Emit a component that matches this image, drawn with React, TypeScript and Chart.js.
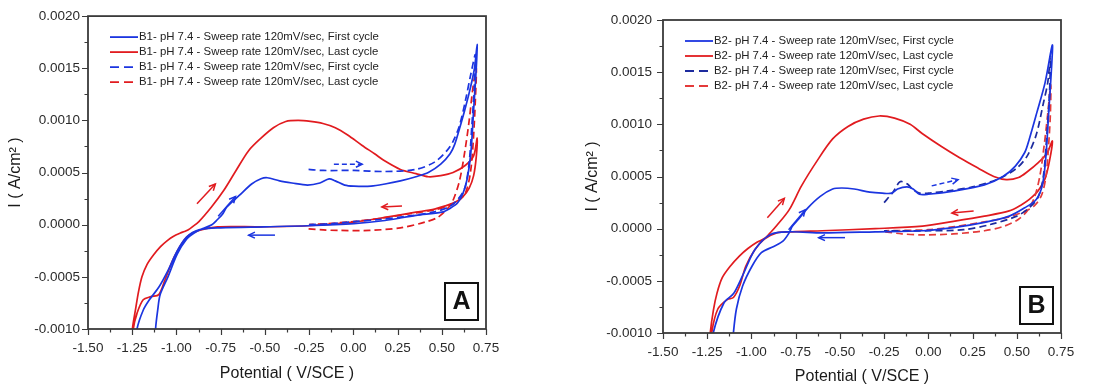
import React, { useEffect, useRef } from 'react';
import { Chart, registerables } from 'chart.js';

Chart.register(...registerables);

type Pt = [number, number];

// ---------- axis ticks ----------
const X_MIN = -1.5;
const X_MAX = 0.75;
const X_STEP = 0.125; // minor step, labels on every second tick
const Y_MIN = -0.001;
const Y_MAX = 0.002;
const Y_STEP = 0.00025;

// ---------- Panel A (B1) ----------
const A_BLUE_SOLID: Pt[] = [
  [-1.125, -0.0013], [-1.118, -0.001], [-1.106, -0.00082], [-1.092, -0.00067], [-1.048, -0.0005],
  [-0.995, -0.00028], [-0.943, -0.00014], [-0.9, -0.00008], [-0.855, -0.00004], [-0.8, 0.0],
  [-0.768, 0.00005], [-0.74, 0.0001], [-0.715, 0.00017], [-0.645, 0.00028], [-0.575, 0.00039],
  [-0.522, 0.00044], [-0.487, 0.00045], [-0.417, 0.00042], [-0.347, 0.0004], [-0.259, 0.00038],
  [-0.189, 0.0004], [-0.137, 0.00044], [-0.102, 0.00042], [-0.049, 0.00038], [0.003, 0.00037],
  [0.1, 0.00037], [0.179, 0.00039], [0.266, 0.00042], [0.354, 0.00046], [0.424, 0.0005],
  [0.494, 0.00058], [0.547, 0.00068], [0.573, 0.00077], [0.6, 0.00092], [0.63, 0.0011],
  [0.66, 0.0013], [0.685, 0.0015], [0.7, 0.00173], [0.695, 0.0015], [0.68, 0.0011],
  [0.665, 0.0007], [0.645, 0.00045], [0.62, 0.0003], [0.59, 0.00021], [0.55, 0.00016],
  [0.5, 0.00012], [0.354, 0.00009], [0.179, 0.00004], [0.003, 0.00001], [-0.259, -0.00001],
  [-0.5, -0.00002], [-0.75, -0.00003], [-0.873, -0.00005], [-0.943, -0.00012], [-0.995, -0.00025],
  [-1.048, -0.00044], [-1.1, -0.0006], [-1.153, -0.00072], [-1.188, -0.00082], [-1.223, -0.001],
  [-1.235, -0.0012],
];
const A_RED_SOLID: Pt[] = [
  [-1.255, -0.0012], [-1.249, -0.001], [-1.232, -0.00082], [-1.214, -0.00064], [-1.195, -0.0005],
  [-1.166, -0.00038], [-1.13, -0.00029], [-1.09, -0.00021], [-1.05, -0.00015], [-1.016, -0.00011],
  [-0.978, -0.00008], [-0.955, -0.000065], [-0.935, -0.00005], [-0.91, -0.00002], [-0.873, 0.00003],
  [-0.802, 0.00017], [-0.732, 0.00033], [-0.663, 0.00052],
  [-0.592, 0.00071], [-0.522, 0.00083], [-0.452, 0.00093], [-0.382, 0.00099], [-0.312, 0.001],
  [-0.242, 0.00099], [-0.172, 0.00097], [-0.102, 0.00093], [-0.032, 0.00086], [0.05, 0.00076],
  [0.12, 0.00068], [0.179, 0.00061], [0.266, 0.00053], [0.354, 0.00049], [0.424, 0.00046],
  [0.494, 0.00047], [0.564, 0.0005], [0.634, 0.00057], [0.68, 0.00066], [0.7, 0.00083],
  [0.695, 0.00065], [0.68, 0.00047], [0.655, 0.00035], [0.62, 0.00027], [0.58, 0.00022],
  [0.52, 0.00018], [0.459, 0.00015], [0.354, 0.00012], [0.179, 0.00007], [0.003, 0.000025],
  [-0.259, -0.00001], [-0.522, -0.00002], [-0.768, -0.00002], [-0.873, -0.000055], [-0.943, -0.00012],
  [-1.013, -0.00031], [-1.065, -0.00053], [-1.1, -0.00067], [-1.144, -0.00069], [-1.188, -0.00072],
  [-1.223, -0.00085], [-1.244, -0.001], [-1.25, -0.0012],
];
const A_BLUE_DASH: Pt[] = [
  [-0.253, 0.00053], [-0.17, 0.00052], [0.003, 0.00052], [0.179, 0.00051], [0.354, 0.00053],
  [0.459, 0.0006], [0.529, 0.00071], [0.564, 0.0008], [0.6, 0.00095], [0.635, 0.0012],
  [0.665, 0.00145], [0.69, 0.00163], [0.683, 0.0013], [0.67, 0.00095], [0.655, 0.0006],
  [0.63, 0.00035], [0.59, 0.00024], [0.54, 0.00017], [0.45, 0.00012], [0.3, 0.00008],
  [0.15, 0.00005], [0.0, 0.00003], [-0.12, 0.00001], [-0.25, 0.0],
];
const A_RED_DASH: Pt[] = [
  [-0.253, -0.00004], [-0.17, -0.00005], [-0.084, -0.000055], [0.091, -0.000055], [0.266, -0.00003],
  [0.406, 0.000025], [0.477, 0.00007], [0.525, 0.00014], [0.56, 0.00022], [0.6, 0.00042],
  [0.63, 0.0007], [0.655, 0.001], [0.675, 0.0013], [0.695, 0.0015], [0.69, 0.0012],
  [0.678, 0.0008], [0.662, 0.0005], [0.635, 0.00031], [0.595, 0.00023], [0.54, 0.00018],
  [0.45, 0.00014], [0.3, 0.0001], [0.15, 0.00006], [0.0, 0.00003], [-0.15, 0.00001], [-0.25, 0.0],
];
// arrows: [fromV, fromI, toV, toI]
const A_ARROW_RED_UP = [-0.884, 0.0002, -0.78, 0.00039];
const A_ARROW_BLUE_UP = [-0.764, 0.00008, -0.666, 0.00027];
const A_ARROW_BLUE_LEFT = [-0.443, -0.0001, -0.592, -0.0001];
const A_ARROW_RED_LEFT = [0.275, 0.00018, 0.161, 0.00017];
const A_ARROW_BLUE_DASH = [-0.11, 0.00058, 0.05, 0.00058];

// ---------- Panel B (B2) ----------
const B_BLUE_SOLID: Pt[] = [
  [-1.11, -0.0012], [-1.102, -0.001], [-1.085, -0.00077], [-1.05, -0.00055], [-0.997, -0.00036],
  [-0.944, -0.00023], [-0.874, -0.00017], [-0.822, -0.00012], [-0.787, -0.00004], [-0.77, 0.00002],
  [-0.734, 0.00009], [-0.681, 0.0002], [-0.611, 0.00031], [-0.541, 0.00038], [-0.489, 0.00039],
  [-0.419, 0.00038], [-0.331, 0.00035], [-0.261, 0.00034], [-0.208, 0.00034], [-0.174, 0.00038],
  [-0.121, 0.0004], [-0.086, 0.00038], [-0.051, 0.00033], [0.0, 0.00033], [0.142, 0.00036],
  [0.317, 0.00042], [0.422, 0.0005], [0.492, 0.0006], [0.545, 0.00073], [0.571, 0.00086],
  [0.613, 0.00111], [0.66, 0.0014], [0.701, 0.00176], [0.695, 0.0015], [0.68, 0.0011],
  [0.665, 0.0007], [0.645, 0.00042], [0.61, 0.00028], [0.545, 0.0002], [0.457, 0.00012],
  [0.317, 0.00006], [0.142, 0.00001], [-0.033, -0.00002], [-0.3, -0.00003], [-0.6, -0.00004],
  [-0.787, -0.00003], [-0.892, -0.000055], [-0.98, -0.0002], [-1.05, -0.00045], [-1.1, -0.00062],
  [-1.155, -0.00071], [-1.216, -0.001], [-1.225, -0.0012],
];
const B_RED_SOLID: Pt[] = [
  [-1.24, -0.0012], [-1.233, -0.001], [-1.215, -0.00078], [-1.195, -0.00062], [-1.165, -0.00047],
  [-1.12, -0.00036], [-1.067, -0.00026], [-1.02, -0.00019], [-0.969, -0.00013], [-0.922, -0.00009],
  [-0.894, -0.00004], [-0.857, 0.00003],
  [-0.787, 0.00018], [-0.717, 0.00041], [-0.629, 0.00065], [-0.541, 0.00086], [-0.454, 0.00098],
  [-0.366, 0.00105], [-0.278, 0.00108], [-0.191, 0.00106], [-0.103, 0.001], [-0.033, 0.00091],
  [0.072, 0.00079], [0.177, 0.00068], [0.282, 0.00058], [0.37, 0.0005], [0.44, 0.00047],
  [0.51, 0.00049], [0.563, 0.00055], [0.62, 0.00063], [0.67, 0.00072], [0.701, 0.00084],
  [0.685, 0.00065], [0.66, 0.00048], [0.62, 0.00036], [0.571, 0.00028], [0.527, 0.00023],
  [0.457, 0.00017], [0.317, 0.00012], [0.142, 0.00007], [-0.033, 0.000025], [-0.3, 0.0],
  [-0.6, -0.00002], [-0.77, -0.00003], [-0.857, -0.00004], [-0.927, -0.0001], [-0.98, -0.0002],
  [-1.032, -0.00036], [-1.067, -0.00055], [-1.102, -0.00066], [-1.137, -0.00068], [-1.19, -0.00077],
  [-1.225, -0.001], [-1.23, -0.0012],
];
const B_BLUE_DASH: Pt[] = [
  [-0.25, 0.00025], [-0.2, 0.00035], [-0.16, 0.00045], [-0.12, 0.00043], [-0.09, 0.00038],
  [-0.05, 0.00034], [0.0, 0.00034], [0.1, 0.00036], [0.25, 0.0004], [0.4, 0.00048],
  [0.5, 0.00058], [0.56, 0.0007], [0.61, 0.0009], [0.65, 0.0012], [0.675, 0.0014],
  [0.69, 0.00165], [0.685, 0.0013], [0.67, 0.0009], [0.65, 0.0005], [0.62, 0.0003],
  [0.57, 0.0002], [0.5, 0.00012], [0.35, 0.00004], [0.2, -0.00001], [0.0, -0.00002], [-0.25, -0.00002],
];
const B_RED_DASH: Pt[] = [
  [-0.244, -0.00003], [-0.15, -0.00005], [-0.03, -0.00006], [0.142, -0.00005], [0.317, -0.00002],
  [0.422, 0.00002], [0.51, 0.00009], [0.563, 0.00018], [0.6, 0.0003], [0.63, 0.0005],
  [0.655, 0.0008], [0.675, 0.0011], [0.692, 0.00138], [0.69, 0.0011], [0.68, 0.0008],
  [0.665, 0.0005], [0.64, 0.00032], [0.6, 0.00022], [0.55, 0.00017], [0.45, 0.00011],
  [0.3, 0.00006], [0.15, 0.00002], [0.0, -0.00001], [-0.25, -0.00002],
];
const B_ARROW_RED_UP = [-0.91, 0.000105, -0.814, 0.00029];
const B_ARROW_BLUE_UP = [-0.79, -0.00001, -0.696, 0.00018];
const B_ARROW_BLUE_LEFT = [-0.471, -0.000086, -0.62, -0.000086];
const B_ARROW_RED_LEFT = [0.256, 0.00017, 0.133, 0.00015];
const B_ARROW_BLUE_DASH = [0.019, 0.00041, 0.168, 0.00047];

// ---------- text ----------
const LEGEND_SUFFIXES = [
  ' pH 7.4 - Sweep rate 120mV/sec, First cycle',
  ' pH 7.4 - Sweep rate 120mV/sec, Last cycle',
  ' pH 7.4 - Sweep rate 120mV/sec, First cycle',
  ' pH 7.4 - Sweep rate 120mV/sec, Last cycle',
];
const X_TITLE = 'Potential ( V/SCE )';
const Y_TITLE = 'I ( A/cm\u00B2 )';

// ---------- styles ----------
const FONT = '"Liberation Sans", Arial, sans-serif';
const BLUE = '#1b35e0';
const RED = '#e11b1f';
const AXIS = '#3a3a3a';

type PanelCfg = {
  prefix: string;
  letter: string;
  blueSolid: Pt[];
  redSolid: Pt[];
  blueDash: Pt[];
  redDash: Pt[];
  blueDashColor: string;
  redDashColor: string;
  arrows: { a: number[]; color: string; dashed?: boolean }[];
  left: number;
  width: number;
  yAxisW: number;
  yTickPad: number;
  padRight: number;
  padTop: number;
  xAxisH: number;
  xTitlePad: number;
};

const PANELS: PanelCfg[] = [
  {
    prefix: 'B1-',
    letter: 'A',
    blueSolid: A_BLUE_SOLID,
    redSolid: A_RED_SOLID,
    blueDash: A_BLUE_DASH,
    redDash: A_RED_DASH,
    blueDashColor: BLUE,
    redDashColor: RED,
    arrows: [
      { a: A_ARROW_RED_UP, color: RED },
      { a: A_ARROW_BLUE_UP, color: BLUE },
      { a: A_ARROW_BLUE_LEFT, color: BLUE },
      { a: A_ARROW_RED_LEFT, color: RED },
      { a: A_ARROW_BLUE_DASH, color: BLUE, dashed: true },
    ],
    left: 0,
    width: 557,
    yAxisW: 88,
    yTickPad: 8,
    padRight: 71,
    padTop: 15,
    xAxisH: 58,
    xTitlePad: 4,
  },
  {
    prefix: 'B2-',
    letter: 'B',
    blueSolid: B_BLUE_SOLID,
    redSolid: B_RED_SOLID,
    blueDash: B_BLUE_DASH,
    redDash: B_RED_DASH,
    blueDashColor: '#1d2b9e',
    redDashColor: '#e43a3a',
    arrows: [
      { a: B_ARROW_RED_UP, color: RED },
      { a: B_ARROW_BLUE_UP, color: BLUE },
      { a: B_ARROW_BLUE_LEFT, color: BLUE },
      { a: B_ARROW_RED_LEFT, color: RED },
      { a: B_ARROW_BLUE_DASH, color: BLUE, dashed: true },
    ],
    left: 577,
    width: 540,
    yAxisW: 86,
    yTickPad: 11,
    padRight: 56,
    padTop: 20,
    xAxisH: 54,
    xTitlePad: 1,
  },
];

const DASH = [7, 4];

function drawArrow(ctx: CanvasRenderingContext2D, x1: number, y1: number, x2: number, y2: number, color: string, dashed?: boolean) {
  ctx.save();
  ctx.strokeStyle = color;
  ctx.lineWidth = 1.5;
  ctx.setLineDash(dashed ? [5, 3] : []);
  ctx.beginPath();
  ctx.moveTo(x1, y1);
  ctx.lineTo(x2, y2);
  ctx.stroke();
  ctx.setLineDash([]);
  const ang = Math.atan2(y2 - y1, x2 - x1);
  const h = 7;
  const spread = 0.45;
  ctx.beginPath();
  ctx.moveTo(x2 - h * Math.cos(ang - spread), y2 - h * Math.sin(ang - spread));
  ctx.lineTo(x2, y2);
  ctx.lineTo(x2 - h * Math.cos(ang + spread), y2 - h * Math.sin(ang + spread));
  ctx.stroke();
  ctx.restore();
}

const decorPlugin = {
  id: 'decor',
  afterDraw(chart: any, _args: any, opts: any) {
    const cfg: PanelCfg = opts.cfg;
    const { ctx, chartArea: ca, scales } = chart;
    const xs = scales.x;
    const ys = scales.y;
    ctx.save();
    // arrows
    cfg.arrows.forEach((ar) => {
      const [v1, i1, v2, i2] = ar.a;
      drawArrow(ctx, xs.getPixelForValue(v1), ys.getPixelForValue(i1), xs.getPixelForValue(v2), ys.getPixelForValue(i2), ar.color, ar.dashed);
    });
    // frame
    ctx.strokeStyle = AXIS;
    ctx.lineWidth = 1.8;
    ctx.setLineDash([]);
    ctx.strokeRect(ca.left, ca.top, ca.right - ca.left, ca.bottom - ca.top);
    // ticks
    ctx.lineWidth = 1.2;
    ctx.beginPath();
    xs.ticks.forEach((t: any, i: number) => {
      const px = Math.round(xs.getPixelForValue(t.value)) + 0.5;
      const len = i % 2 === 0 ? 6 : 3.5;
      ctx.moveTo(px, ca.bottom);
      ctx.lineTo(px, ca.bottom + len);
    });
    ys.ticks.forEach((t: any, i: number) => {
      const py = Math.round(ys.getPixelForValue(t.value)) + 0.5;
      const len = i % 2 === 0 ? 6 : 3.5;
      ctx.moveTo(ca.left, py);
      ctx.lineTo(ca.left - len, py);
    });
    ctx.stroke();
    // legend
    const colors = [BLUE, RED, cfg.blueDashColor, cfg.redDashColor];
    const lx = ca.left + 22;
    const ly = ca.top + 21;
    ctx.font = `11.4px ${FONT}`;
    ctx.textBaseline = 'middle';
    ctx.textAlign = 'left';
    LEGEND_SUFFIXES.forEach((s, k) => {
      const y = ly + k * 15;
      ctx.strokeStyle = colors[k];
      ctx.lineWidth = 1.8;
      ctx.setLineDash(k >= 2 ? [9, 5] : []);
      ctx.beginPath();
      ctx.moveTo(lx, y);
      ctx.lineTo(lx + 28, y);
      ctx.stroke();
      ctx.setLineDash([]);
      ctx.fillStyle = '#222';
      ctx.fillText(cfg.prefix + s, lx + 29, y);
    });
    // letter box
    const bw = 33;
    const bh = 37;
    const bx = ca.right - 8 - bw;
    const by = ca.bottom - 9 - bh;
    ctx.fillStyle = '#fff';
    ctx.fillRect(bx, by, bw, bh);
    ctx.strokeStyle = '#111';
    ctx.lineWidth = 2;
    ctx.strokeRect(bx, by, bw, bh);
    ctx.fillStyle = '#111';
    ctx.font = `bold 25px ${FONT}`;
    ctx.textAlign = 'center';
    ctx.textBaseline = 'middle';
    ctx.fillText(cfg.letter, bx + bw / 2, by + bh / 2 + 1);
    ctx.restore();
  },
};

function toXY(p: Pt[]) {
  return p.map(([x, y]) => ({ x, y }));
}

function Panel({ cfg }: { cfg: PanelCfg }) {
  const ref = useRef<HTMLCanvasElement>(null);
  useEffect(() => {
    const line = (data: Pt[], color: string, dashed: boolean) => ({
      data: toXY(data),
      showLine: true,
      borderColor: color,
      backgroundColor: color,
      borderWidth: 1.7,
      borderDash: dashed ? DASH : [],
      pointRadius: 0,
      tension: 0.3,
      fill: false,
    });
    const chart = new Chart(ref.current!, {
      type: 'scatter',
      data: {
        datasets: [
          line(cfg.blueSolid, BLUE, false),
          line(cfg.blueDash, cfg.blueDashColor, true),
          line(cfg.redDash, cfg.redDashColor, true),
          line(cfg.redSolid, RED, false),
        ],
      },
      options: {
        animation: false,
        responsive: false,
        events: [],
        layout: { padding: { left: 0, right: cfg.padRight, top: cfg.padTop, bottom: 0 } },
        plugins: {
          legend: { display: false },
          tooltip: { enabled: false },
          decor: { cfg },
        } as any,
        scales: {
          x: {
            type: 'linear',
            min: X_MIN,
            max: X_MAX,
            grid: { display: false, drawTicks: false },
            border: { display: false },
            ticks: {
              stepSize: X_STEP,
              autoSkip: false,
              maxRotation: 0,
              padding: 11,
              color: '#2a2a2a',
              font: { family: FONT, size: 13.5 },
              callback: (v: any, i: number) => (i % 2 === 0 ? Number(v).toFixed(2) : ''),
            },
            title: {
              display: true,
              text: X_TITLE,
              color: '#1a1a1a',
              font: { family: FONT, size: 16 },
              padding: { top: 0, bottom: cfg.xTitlePad },
            },
            afterFit: (s: any) => {
              s.height = cfg.xAxisH;
            },
          },
          y: {
            type: 'linear',
            min: Y_MIN,
            max: Y_MAX,
            grid: { display: false, drawTicks: false },
            border: { display: false },
            ticks: {
              stepSize: Y_STEP,
              autoSkip: false,
              padding: cfg.yTickPad,
              color: '#2a2a2a',
              font: { family: FONT, size: 13.5 },
              callback: (v: any, i: number) => (i % 2 === 0 ? Number(v).toFixed(4) : ''),
            },
            title: {
              display: true,
              text: Y_TITLE,
              color: '#1a1a1a',
              font: { family: FONT, size: 16 },
              padding: { top: 6, bottom: 0 },
            },
            afterFit: (s: any) => {
              s.width = cfg.yAxisW;
            },
          },
        },
      } as any,
      plugins: [decorPlugin as any],
    });
    return () => chart.destroy();
  }, [cfg]);
  return (
    <canvas
      ref={ref}
      width={cfg.width}
      height={387}
      style={{ position: 'absolute', left: cfg.left, top: 0, width: cfg.width, height: 387 }}
    />
  );
}

export default function App() {
  return (
    <div style={{ position: 'fixed', left: 0, top: 0, width: 1117, height: 387, background: '#fff', overflow: 'hidden' }}>
      {PANELS.map((p) => (
        <Panel key={p.letter} cfg={p} />
      ))}
    </div>
  );
}
